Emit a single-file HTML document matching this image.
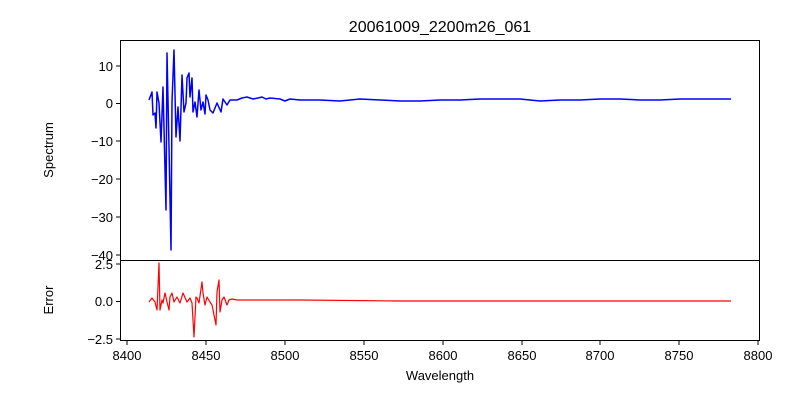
<!DOCTYPE html>
<html><head><style>body{margin:0;background:#fff}</style></head><body>
<svg width="800" height="400" xmlns="http://www.w3.org/2000/svg" font-family="Liberation Sans, DejaVu Sans, sans-serif">
<rect width="800" height="400" fill="#fff"/>
<text x="440" y="32" font-size="16" text-anchor="middle">20061009_2200m26_061</text>
<polyline fill="none" stroke="#0000ff" stroke-width="1.5" stroke-linejoin="round" points="149,100 152,92 153,115 155,113 156,128 157,92 159,103 161,142 163,87 166,210 167,53 169,147 171,250 172,102 174,50 176,137 178,107 180,141 182,75 184,112 186,103 187,78 189,73 190,97 192,78 193,112 195,102 197,117 199,90 201,110 203,102 205,114 206,95 208,100 210,110 213,113 217,103 221,112 223,99 227,105 230,100 237,100 242,98 247,97 253,99 258,98 262,97 266,99 270,98 280,99 285,101 290,99 300,100 320,100 340,101 360,99 380,100 400,101 420,101 440,100 460,100 480,99 500,99 520,99 540,101 560,100 580,100 600,99 620,99 640,100 660,100 680,99 700,99 720,99 731,99"/>
<polyline fill="none" stroke="#ff0000" stroke-width="1.2" stroke-linejoin="round" points="149,302 152,298 155,302 157,310 159,263 160,310 162,300 163,303 165,293 167,302 169,310 170,297 172,293 174,302 177,297 180,303 183,293 187,302 190,298 192,303 194,337 196,297 197,298 199,303 202,282 203,293 205,305 207,297 210,302 212,305 216,325 217,292 219,280 220,312 222,300 224,297 227,305 229,300 232,299 237,300 260,300 300,300 400,301 500,301 600,301 700,301 731,301"/>
<g fill="none" stroke="#000" stroke-width="1">
<rect x="120.5" y="40.5" width="639" height="220"/>
<rect x="120.5" y="260.5" width="639" height="80"/>
</g>
<g stroke="#000">
<line x1="116" x2="120" y1="66" y2="66"/><line x1="116" x2="120" y1="103.5" y2="103.5"/><line x1="116" x2="120" y1="141" y2="141"/><line x1="116" x2="120" y1="179" y2="179"/><line x1="116" x2="120" y1="217" y2="217"/><line x1="116" x2="120" y1="255" y2="255"/>
<line x1="116" x2="120" y1="264" y2="264"/><line x1="116" x2="120" y1="301.5" y2="301.5"/><line x1="116" x2="120" y1="339" y2="339"/>
<line x1="127" x2="127" y1="341" y2="345"/><line x1="206" x2="206" y1="341" y2="345"/><line x1="285" x2="285" y1="341" y2="345"/><line x1="364" x2="364" y1="341" y2="345"/><line x1="443" x2="443" y1="341" y2="345"/><line x1="522" x2="522" y1="341" y2="345"/><line x1="600" x2="600" y1="341" y2="345"/><line x1="679" x2="679" y1="341" y2="345"/><line x1="758" x2="758" y1="341" y2="345"/>
</g>
<g font-size="13" text-anchor="end">
<text x="113" y="71">10</text><text x="113" y="108">0</text><text x="113" y="146">−10</text><text x="113" y="184">−20</text><text x="113" y="222">−30</text><text x="113" y="260">−40</text>
<text x="113" y="269">2.5</text><text x="113" y="306">0.0</text><text x="113" y="344">−2.5</text>
</g>
<g font-size="13" text-anchor="middle">
<text x="127" y="360">8400</text><text x="206" y="360">8450</text><text x="285" y="360">8500</text><text x="364" y="360">8550</text><text x="443" y="360">8600</text><text x="522" y="360">8650</text><text x="600" y="360">8700</text><text x="679" y="360">8750</text><text x="758" y="360">8800</text>
<text x="440" y="380">Wavelength</text>
<text transform="translate(53,150) rotate(-90)">Spectrum</text>
<text transform="translate(53,300) rotate(-90)">Error</text>
</g>
</svg>
</body></html>
